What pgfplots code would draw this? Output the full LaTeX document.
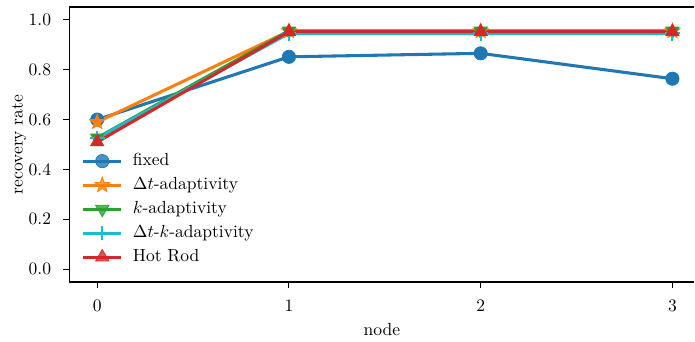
\documentclass[border=0pt]{standalone}
\usepackage{pgfplots}
\pgfplotsset{compat=1.18}
\usetikzlibrary{plotmarks}
\definecolor{tabblue}{HTML}{1F77B4}
\definecolor{taborange}{HTML}{FF7F0E}
\definecolor{tabgreen}{HTML}{2CA02C}
\definecolor{tabcyan}{HTML}{17BECF}
\definecolor{tabred}{HTML}{D62728}
\pgfdeclareplotmark{fstar}{%
  \pgfpathmoveto{\pgfpointpolar{90}{\pgfplotmarksize}}%
  \pgfpathlineto{\pgfpointpolar{126}{0.42\pgfplotmarksize}}%
  \pgfpathlineto{\pgfpointpolar{162}{\pgfplotmarksize}}%
  \pgfpathlineto{\pgfpointpolar{198}{0.42\pgfplotmarksize}}%
  \pgfpathlineto{\pgfpointpolar{234}{\pgfplotmarksize}}%
  \pgfpathlineto{\pgfpointpolar{270}{0.42\pgfplotmarksize}}%
  \pgfpathlineto{\pgfpointpolar{306}{\pgfplotmarksize}}%
  \pgfpathlineto{\pgfpointpolar{342}{0.42\pgfplotmarksize}}%
  \pgfpathlineto{\pgfpointpolar{18}{\pgfplotmarksize}}%
  \pgfpathlineto{\pgfpointpolar{54}{0.42\pgfplotmarksize}}%
  \pgfpathclose
  \pgfusepathqfillstroke}
\begin{document}
\begin{tikzpicture}
\begin{axis}[
  scale only axis,
  width=357pt, height=157pt,
  xmin=-0.146, xmax=3.115,
  ymin=-0.052, ymax=1.052,
  axis x line=box, axis y line=left,
  axis line style={line width=0.6pt, -},
  xtick={0,1,2,3},
  ytick={0,0.2,0.4,0.6,0.8,1.0},
  yticklabel style={xshift=-3.3pt, /pgf/number format/.cd, fixed, fixed zerofill, precision=1},
  xticklabel style={yshift=-3.5pt},
  tick align=outside, tick pos=left,
  major tick length=3.5pt,
  tick style={line width=0.6pt, black},
  xlabel={node}, ylabel={recovery rate},
  xlabel style={yshift=0.5pt},
  ylabel style={yshift=-5.4pt},
  legend cell align=left,
  legend style={draw=none, fill=white, fill opacity=0.8, text opacity=1,
    at={(axis description cs:0,0)}, anchor=south west, xshift=7pt, yshift=8.5pt,
    inner sep=0pt, row sep=2.7pt,
    nodes={inner sep=1pt, text height=7pt, text depth=2pt},
    /tikz/every odd column/.append style={column sep=4.8pt}},
  legend image code/.code={\draw[mark repeat=2, mark phase=2] plot coordinates {(0cm,0cm) (0.38cm,0cm) (0.76cm,0cm)};},
  every axis plot/.append style={line width=1.75pt},
  extra description/.code={\path (0,1) ++(0,4pt);},
]
\addplot[color=tabblue, mark=*, mark size=3.8pt, mark options={solid, line width=0.4pt}] coordinates {(0,0.600) (1,0.852) (2,0.866) (3,0.764)};
\addlegendentry{fixed}
\addplot[color=taborange, mark=fstar, mark size=4.6pt, mark options={solid, line width=0.4pt}] coordinates {(0,0.590) (1,0.955) (2,0.955) (3,0.955)};
\addlegendentry{$\Delta t$-adaptivity}
\addplot[color=tabgreen, mark=triangle*, mark size=4.4pt, mark options={solid, rotate=180, line width=0.4pt}] coordinates {(0,0.527) (1,0.956) (2,0.956) (3,0.956)};
\addlegendentry{$k$-adaptivity}
\addplot[color=tabcyan, mark=+, mark size=4.2pt, mark options={solid, line width=1.1pt}] coordinates {(0,0.525) (1,0.946) (2,0.946) (3,0.946)};
\addlegendentry{$\Delta t$-$k$-adaptivity}
\addplot[color=tabred, mark=triangle*, mark size=4.4pt, mark options={solid, line width=0.4pt}] coordinates {(0,0.510) (1,0.953) (2,0.953) (3,0.953)};
\addlegendentry{Hot Rod}
\end{axis}
\path (current bounding box.west) ++(-3.4pt,0);
\end{tikzpicture}
\end{document}
